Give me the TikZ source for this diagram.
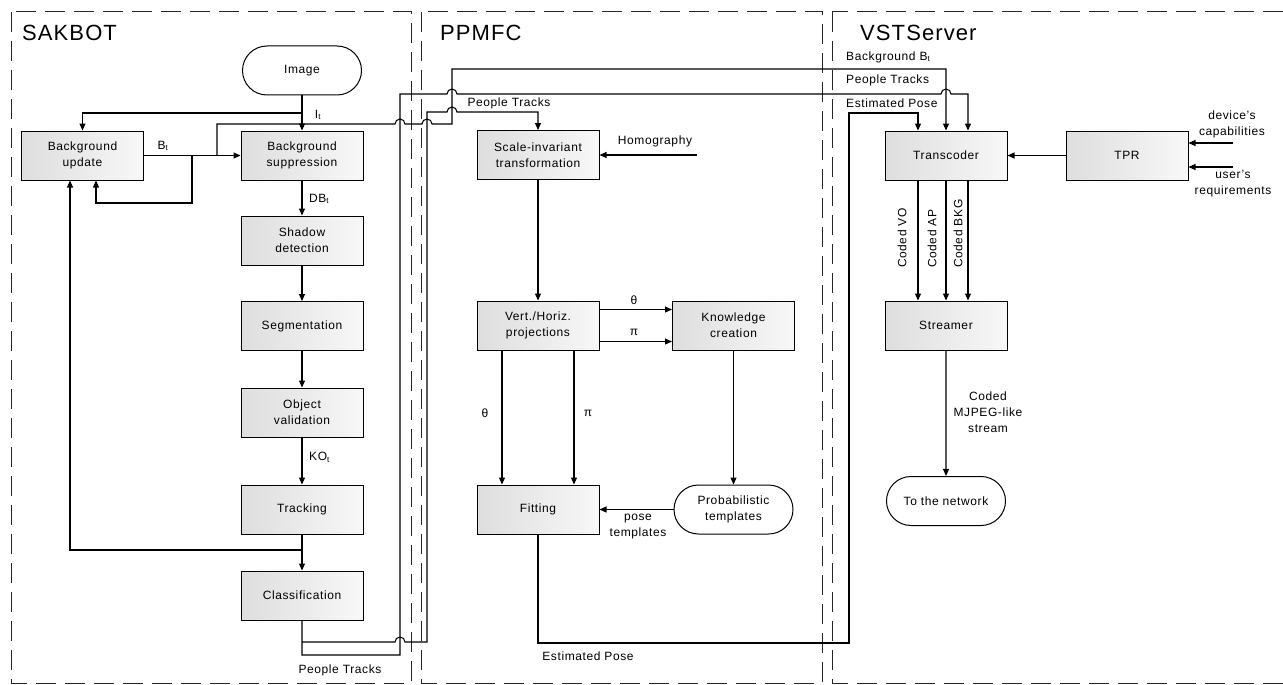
\documentclass[tikz,border=0pt]{standalone}
\usepackage{fontspec}
\setmainfont{Liberation Sans}[LetterSpace=5]
\usetikzlibrary{arrows.meta,shapes.misc}
\newcommand{\boxfont}{\fontsize{12}{16}\selectfont}
\newcommand{\hopr}{arc[start angle=180,end angle=0,radius=5pt]}
\tikzset{
	block/.style = {draw, line width=1pt, left color=black!13, right color=black!3,
		minimum width=122pt, minimum height=49pt, inner sep=1pt, align=center, font=\boxfont},
	term/.style = {draw, line width=1pt, fill=white, rounded rectangle,
		minimum width=121pt, minimum height=49pt, inner sep=1pt, align=center, font=\boxfont},
	lbl/.style = {inner sep=0pt, align=center, font=\boxfont},
	ttl/.style = {inner sep=0pt, anchor=base west, font=\fontsize{22}{26}\selectfont},
	conn/.style = {line width=1.05pt, -{Triangle[length=7pt,width=6pt]}},
	frame/.style = {draw=black!85, line width=1pt, dash pattern=on 20pt off 9pt}
}
\begin{document}
\begin{tikzpicture}[x=1pt, y=-1pt]
%	\draw[help lines] (0,0) grid[step=50] (1283,685);
	\useasboundingbox (0,0) rectangle (1283,685);
	\draw [frame] (11,12) rectangle (411,683);
	\draw [frame] (421,12) rectangle (822,683);
	\draw [frame] (832,12) rectangle (1300,683);
	\node [ttl] (tsak) at (22,41) {SAKBOT};
	\node [ttl] (tppm) at (440,41) {PPMFC};
	\node [ttl] (tvst) at (860,41) {VSTServer};

	% SAKBOT
	\node [term] (img) at (302,70.5) {Image};
	\node [block] (bgu) at (82.5,155.5) {Background\\update};
	\node [block] (bgs) at (302,155.5) {Background\\suppression};
	\node [block] (shd) at (302,240.5) {Shadow\\detection};
	\node [block] (seg) at (302,326) {Segmentation};
	\node [block] (obj) at (302,412.5) {Object\\validation};
	\node [block] (trk) at (302,509.5) {Tracking};
	\node [block] (cls) at (302,595.5) {Classification};
	\coordinate (jI) at (302,113);
	\coordinate (jBa) at (192,155.5);
	\coordinate (jBb) at (217,155.5);
	\coordinate (jC) at (302,550);
	\coordinate (jP) at (302,642);
	\draw [conn] (img) -- (bgs);
	\draw [conn] (jI) -| (bgu.north);
	\draw [conn] (bgu) -- (bgs);
	\draw [conn] (jBa) -- ++(0,47.5) -| ([xshift=13.5pt]bgu.south);
	\draw [conn] (bgs) -- (shd);
	\draw [conn] (shd) -- (seg);
	\draw [conn] (seg) -- (obj);
	\draw [conn] (obj) -- (trk);
	\draw [conn] (trk) -- (cls);
	\draw [conn] (jC) -| ([xshift=-12.5pt]bgu.south);
	\node [lbl] (lIt) at (318,115) {I\textsubscript{t}};
	\node [lbl] (lBt) at (163,146) {B\textsubscript{t}};
	\node [lbl, anchor=west] (lDBt) at (309,199) {DB\textsubscript{t}};
	\node [lbl, anchor=west] (lKOt) at (309,457) {KO\textsubscript{t}};
	\node [lbl] (lpt1) at (340,670) {People Tracks};

	% PPMFC
	\node [block] (sit) at (538,155) {Scale-invariant\\transformation};
	\node [block] (vhp) at (538,325.5) {Vert./Horiz.\\projections};
	\node [block] (knc) at (733.5,325.5) {Knowledge\\creation};
	\node [block] (fit) at (538,509.5) {Fitting};
	\node [term] (prb) at (733.5,509.5) {Probabilistic\\templates};
	\coordinate (homo) at (697,155);
	\draw [conn] (homo) -- (sit);
	\draw [conn] (sit) -- (vhp);
	\draw [conn] ([yshift=16pt]vhp.east) -- ([yshift=16pt]knc.west);
	\draw [conn] ([yshift=-16pt]vhp.east) -- ([yshift=-16pt]knc.west);
	\draw [conn] ([xshift=-36pt]vhp.south) -- ([xshift=-36pt]fit.north);
	\draw [conn] ([xshift=36pt]vhp.south) -- ([xshift=36pt]fit.north);
	\draw [conn] (knc) -- (prb);
	\draw [conn] (prb) -- (fit);
	\node [lbl] (lhom) at (655,141) {Homography};
	\node [lbl] (lth1) at (634,300) {θ};
	\node [lbl] (lpi1) at (634,332) {π};
	\node [lbl] (lth2) at (485,413) {θ};
	\node [lbl] (lpi2) at (588,413) {π};
	\node [lbl] (lpose) at (638,527) {pose\\templates};
	\node [lbl] (lpt2) at (509,103) {People Tracks};
	\node [lbl] (lep1) at (588,656) {Estimated Pose};

	% VSTServer
	\node [block] (tcd) at (946,155.5) {Transcoder};
	\node [block] (tpr) at (1127,155.5) {TPR};
	\node [block] (str) at (946,325.5) {Streamer};
	\node [term] (net) at (946,501) {To the network};
	\coordinate (devin) at (1233,143);
	\coordinate (usrin) at (1233,167);
	\draw [conn] (tpr) -- (tcd);
	\draw [conn] (devin) -- (devin -| tpr.east);
	\draw [conn] (usrin) -- (usrin -| tpr.east);
	\foreach \dx in {-28,0,22}
		\draw [conn] ([xshift=\dx pt]tcd.south) -- ([xshift=\dx pt]str.north);
	\draw [conn] (str) -- (net);
	\node [lbl] (ldev) at (1232,124) {device's\\capabilities};
	\node [lbl] (lusr) at (1233,184) {user's\\requirements};
	\node [lbl, rotate=90, anchor=west] (lvo) at (902,268) {Coded VO};
	\node [lbl, rotate=90, anchor=west] (lap) at (932,268) {Coded AP};
	\node [lbl, rotate=90, anchor=west] (lbkg) at (958,268) {Coded BKG};
	\node [lbl] (lmj) at (988,412) {Coded\\MJPEG-like\\stream};
	\node [lbl, anchor=west] (lbg) at (846,57) {Background B\textsubscript{t}};
	\node [lbl, anchor=west] (lpt3) at (846,80) {People Tracks};
	\node [lbl, anchor=west] (lep2) at (846,103) {Estimated Pose};

	% links between the three blocks
	\draw [conn] (jBb) |- (395,124) \hopr -- (422,124) \hopr -- (452,124)
		|- (946,69) -- (tcd.north);
	\draw [conn] (cls.south) |- (400,655) -- (400,94) -- (447,94) \hopr
		-- (941,94) \hopr -- (968,94) -- ([xshift=22pt]tcd.north);
	\draw [conn] (jP) -- (395,642) \hopr -- (427,642) -- (427,112)
		-- (447,112) \hopr -- (538,112) -- (sit.north);
	\draw [conn] (fit.south) |- (849,643) |- (918,113) -- ([xshift=-28pt]tcd.north);
\end{tikzpicture}
\end{document}
